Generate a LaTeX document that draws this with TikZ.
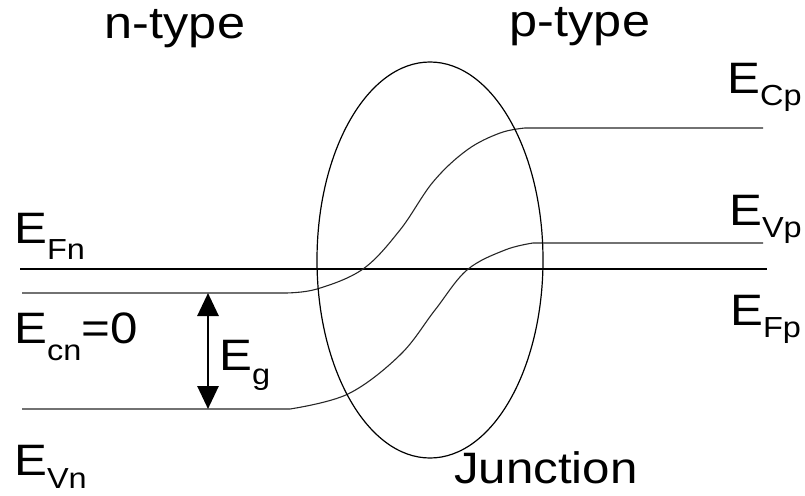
\documentclass[tikz,border=0pt]{standalone}
\usepackage{fontspec}
\setmainfont{Liberation Sans}[FakeStretch=1.12]
\usetikzlibrary{arrows.meta}
\newcommand{\Lsub}[3]{E\raisebox{-#3pt}{\fontsize{29}{29}\selectfont #1}#2}
\begin{document}
\begin{tikzpicture}[x=1pt,y=-1pt,
  lbl/.style={anchor=base west,inner sep=0pt,font=\fontsize{44}{44}\selectfont},
  ttl/.style={anchor=base,inner sep=0pt,font=\fontsize{45}{45}\selectfont},
  band/.style={line width=1.1pt,draw=black!85},
  fermi/.style={line width=2.8pt},
  gaparrow/.style={line width=2.8pt,{Triangle[length=23pt,width=21pt]}-{Triangle[length=23pt,width=21pt]}}]
\useasboundingbox (0,0) rectangle (805,495);
% fermi level
\draw[fermi] (20,269) -- (767,269);
% conduction band
\draw[band] (22,293) -- (285,293)
  plot[smooth,tension=0.6] coordinates {(285,293) (317,289) (363,269) (400,230) (433,182) (467,150) (500,133) (525,128)}
  -- (763,128);
% valence band
\draw[band] (22,409) -- (290,409)
  plot[smooth,tension=0.6] coordinates {(290,409) (348,394) (400,355) (435,310) (467,270) (505,250) (533,243)}
  -- (763,243);
% junction ellipse
\draw[line width=1.2pt] (430,260) ellipse [x radius=113, y radius=198];
% gap arrow
\coordinate (gt) at (208,293);
\coordinate (gb) at (208,409);
\draw[gaparrow] (gt) -- (gb);
% labels
\node[ttl] (nt) at (175,39) {n-type};
\node[ttl] (pt) at (580,37) {p-type};
\node[lbl] (efn) at (14,243) {\Lsub{Fn}{}{16}};
\node[lbl] (ecn) at (14,343) {\Lsub{cn}{=0}{17}};
\node[lbl] (evn) at (14,475) {\Lsub{Vn}{}{13}};
\node[lbl] (ecp) at (727,93) {\Lsub{Cp}{}{12}};
\node[lbl] (evp) at (729,225) {\Lsub{Vp}{}{12}};
\node[lbl] (efp) at (730,325) {\Lsub{Fp}{}{12}};
\node[lbl] (eg) at (219,370) {\Lsub{g}{}{14}};
\node[lbl] (jn) at (454,483) {Junction};
\end{tikzpicture}
\end{document}
